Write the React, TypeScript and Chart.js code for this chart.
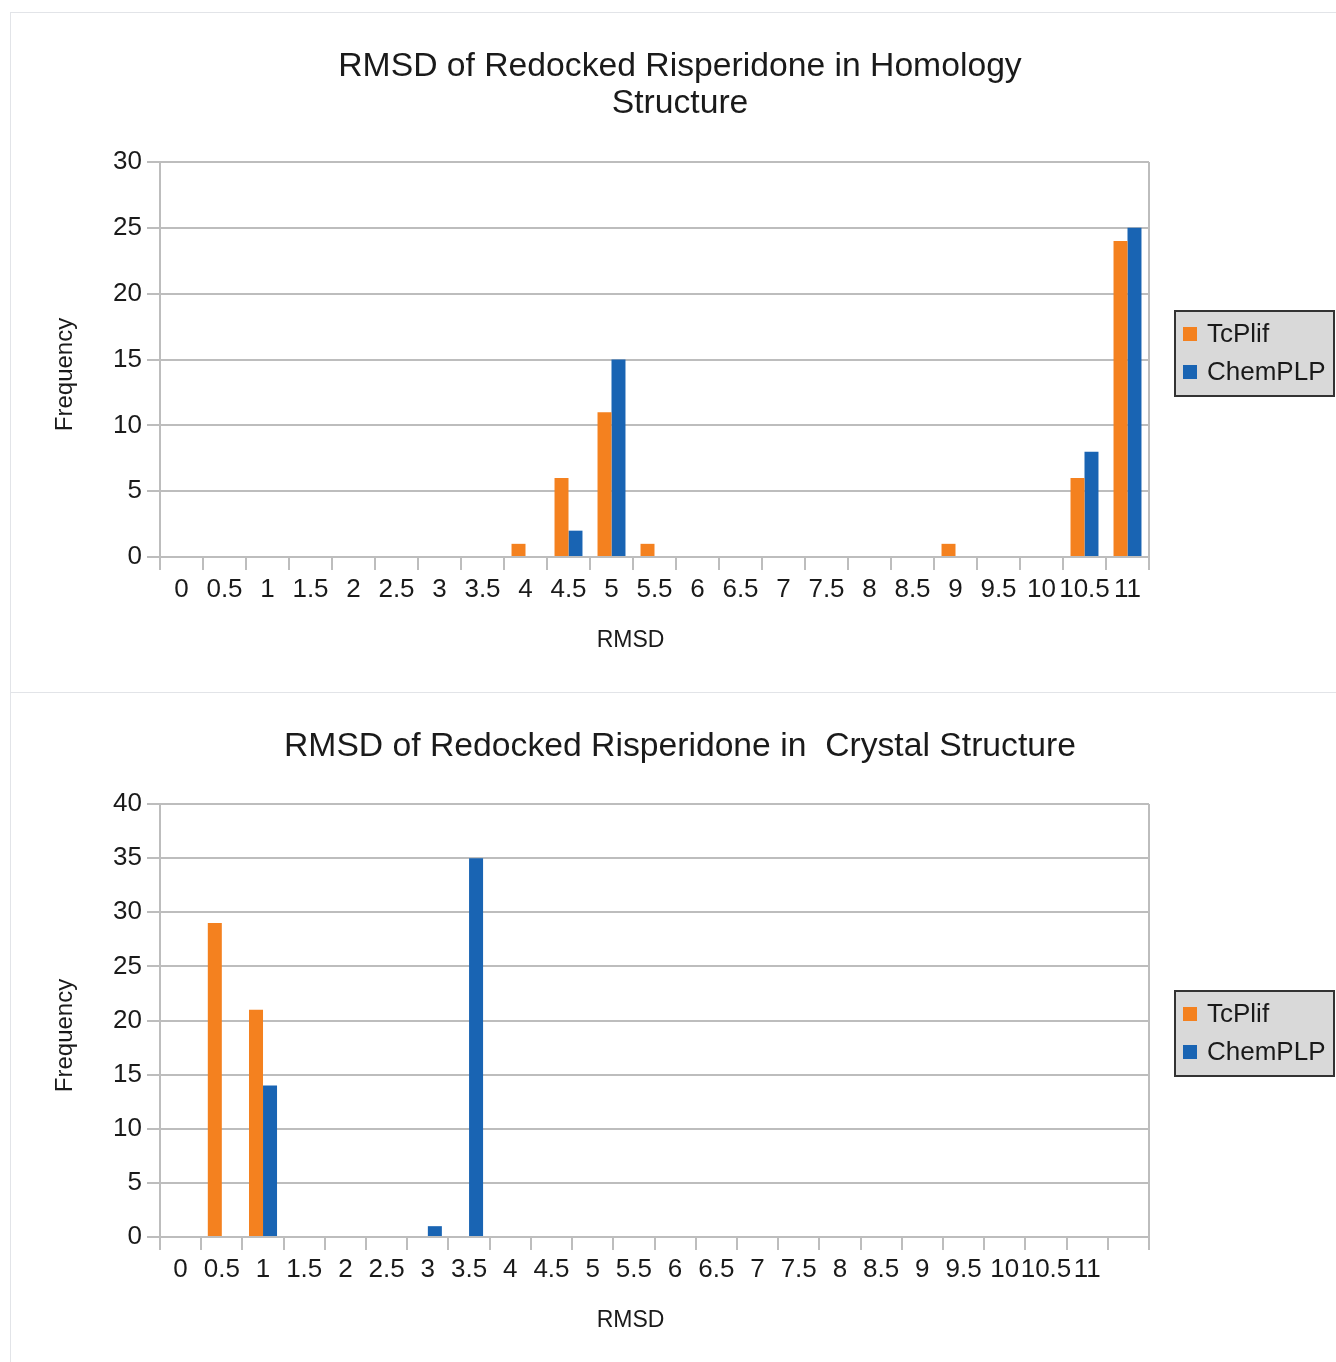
import React, { useEffect, useRef } from 'react';
import { Chart, registerables } from 'chart.js';

Chart.register(...registerables);

// ---------- data ----------
const topLabels = ['0', '0.5', '1', '1.5', '2', '2.5', '3', '3.5', '4', '4.5', '5', '5.5', '6', '6.5', '7', '7.5', '8', '8.5', '9', '9.5', '10', '10.5', '11'];
const topTcPlif = [0, 0, 0, 0, 0, 0, 0, 0, 1, 6, 11, 1, 0, 0, 0, 0, 0, 0, 1, 0, 0, 6, 24];
const topChemPLP = [0, 0, 0, 0, 0, 0, 0, 0, 0, 2, 15, 0, 0, 0, 0, 0, 0, 0, 0, 0, 0, 8, 25];

const bottomLabels = ['0', '0.5', '1', '1.5', '2', '2.5', '3', '3.5', '4', '4.5', '5', '5.5', '6', '6.5', '7', '7.5', '8', '8.5', '9', '9.5', '10', '10.5', '11', ''];
const bottomTcPlif = [0, 29, 21, 0, 0, 0, 0, 0, 0, 0, 0, 0, 0, 0, 0, 0, 0, 0, 0, 0, 0, 0, 0, 0];
const bottomChemPLP = [0, 0, 14, 0, 0, 0, 1, 35, 0, 0, 0, 0, 0, 0, 0, 0, 0, 0, 0, 0, 0, 0, 0, 0];

const seriesNames = ['TcPlif', 'ChemPLP'];
const topTitle = ['RMSD of Redocked Risperidone in Homology', 'Structure'];
const bottomTitle = 'RMSD of Redocked Risperidone in  Crystal Structure';
const xTitle = 'RMSD';
const yTitle = 'Frequency';
const topYMax = 30;
const bottomYMax = 40;
const yStep = 5;

// ---------- styles ----------
const FONT = '"Liberation Sans", Arial, sans-serif';
const ORANGE = '#f4811f';
const BLUE = '#1964b3';
const GRID = '#bdbdbd';
const TEXT = '#1a1a1a';
const CANVAS_W = 1340;
const PLOT_LEFT = 150;
const PLOT_RIGHT = 1139;
const PLOT_BOTTOM = 545;

function shiftTitle(s: any, dx: number, dy: number) {
  if (s.__shifted) return;
  const orig = s.drawTitle;
  s.drawTitle = function (this: any) {
    const ctx = this.ctx;
    ctx.save();
    ctx.translate(dx, dy);
    orig.call(this);
    ctx.restore();
  };
  s.__shifted = true;
}

const boxLegend = {
  id: 'boxLegend',
  afterDraw(chart: any) {
    const ctx = chart.ctx;
    ctx.save();
    const x = 1165, y = 299, w = 159, h = 85;
    ctx.fillStyle = '#d9d9d9';
    ctx.fillRect(x, y, w, h);
    ctx.strokeStyle = '#333333';
    ctx.lineWidth = 2;
    ctx.strokeRect(x, y, w, h);
    ctx.font = '26px ' + FONT;
    ctx.textBaseline = 'middle';
    ctx.textAlign = 'left';
    chart.data.datasets.forEach((ds: any, i: number) => {
      const cy = y + 23 + i * 38;
      ctx.fillStyle = ds.backgroundColor;
      ctx.fillRect(x + 8, cy - 7, 14, 14);
      ctx.fillStyle = TEXT;
      ctx.fillText(ds.label, x + 32, cy + 1);
    });
    ctx.restore();
  },
};

const rightBorder = {
  id: 'rightBorder',
  afterDatasetsDraw(chart: any) {
    const { ctx, chartArea } = chart;
    ctx.save();
    ctx.strokeStyle = GRID;
    ctx.lineWidth = 2;
    ctx.beginPath();
    ctx.moveTo(chartArea.right, chartArea.top);
    ctx.lineTo(chartArea.right, chartArea.bottom + 13);
    ctx.stroke();
    ctx.restore();
  },
};

function makeConfig(
  labels: string[],
  a: number[],
  b: number[],
  title: string | string[],
  yMax: number,
  height: number,
  catPct: number,
  titlePad: { top: number; bottom: number },
  xTitlePadBottom: number
): any {
  return {
    type: 'bar',
    data: {
      labels,
      datasets: [
        { label: seriesNames[0], data: a, backgroundColor: ORANGE, borderWidth: 0, categoryPercentage: catPct, barPercentage: 1 },
        { label: seriesNames[1], data: b, backgroundColor: BLUE, borderWidth: 0, categoryPercentage: catPct, barPercentage: 1 },
      ],
    },
    options: {
      responsive: false,
      animation: false,
      devicePixelRatio: 1,
      layout: { padding: 0 },
      plugins: {
        legend: { display: false },
        tooltip: { enabled: false },
        title: {
          display: true,
          text: title,
          color: TEXT,
          font: { family: FONT, size: 33.7, weight: 'normal', lineHeight: 37 / 33.7 },
          padding: titlePad,
        },
      },
      scales: {
        x: {
          offset: true,
          grid: { display: true, drawOnChartArea: false, drawTicks: true, tickLength: 13, color: GRID, lineWidth: 2, offset: true },
          border: { display: true, color: GRID, width: 2 },
          ticks: { autoSkip: false, maxRotation: 0, minRotation: 0, padding: 4, color: TEXT, font: { family: FONT, size: 26, lineHeight: 1.2 } },
          title: { display: true, text: xTitle, color: TEXT, font: { family: FONT, size: 23, lineHeight: 1.2 }, padding: { top: 0, bottom: xTitlePadBottom } },
          afterFit: (s: any) => { s.height = height - PLOT_BOTTOM; shiftTitle(s, -24, 0); },
        },
        y: {
          min: 0,
          max: yMax,
          ticks: { stepSize: yStep, padding: 5, color: TEXT, font: { family: FONT, size: 26, lineHeight: 1.2 } },
          grid: { color: GRID, lineWidth: 2, drawTicks: true, tickLength: 13 },
          border: { display: true, color: GRID, width: 2 },
          title: { display: true, text: yTitle, color: TEXT, font: { family: FONT, size: 24, lineHeight: 1.2 }, padding: { top: 41, bottom: 0 } },
          afterFit: (s: any) => { s.width = PLOT_LEFT; shiftTitle(s, 0, 15); },
        },
        yRightSpace: {
          type: 'linear',
          position: 'right',
          display: true,
          grid: { display: false, drawTicks: false },
          border: { display: false },
          ticks: { display: false },
          afterFit: (s: any) => { s.width = CANVAS_W - PLOT_RIGHT; },
        },
      },
    },
    plugins: [boxLegend, rightBorder],
  };
}

function ChartCanvas({ config, width, height }: { config: any; width: number; height: number }) {
  const ref = useRef<HTMLCanvasElement | null>(null);
  useEffect(() => {
    if (!ref.current) return;
    const chart = new Chart(ref.current, config);
    return () => chart.destroy();
  }, [config]);
  return <canvas ref={ref} width={width} height={height} style={{ width, height, display: 'block' }} />;
}

const topConfig = makeConfig(topLabels, topTcPlif, topChemPLP, topTitle, topYMax, 680, 0.65, { top: 36, bottom: 40 }, 38);
const bottomConfig = makeConfig(bottomLabels, bottomTcPlif, bottomChemPLP, bottomTitle, bottomYMax, 670, 0.68, { top: 36, bottom: 39 }, 28);

export default function App() {
  return (
    <div style={{ position: 'absolute', left: 0, top: 0, width: 1336, height: 1362, overflow: 'hidden', background: '#ffffff' }}>
      <div style={{ position: 'absolute', left: 10, top: 12, width: CANVAS_W, height: 680 }}>
        <ChartCanvas config={topConfig} width={CANVAS_W} height={680} />
      </div>
      <div style={{ position: 'absolute', left: 10, top: 692, width: CANVAS_W, height: 670 }}>
        <ChartCanvas config={bottomConfig} width={CANVAS_W} height={670} />
      </div>
      <div style={{ position: 'absolute', left: 10, top: 12, width: 1326, height: 1, background: '#e2e4e8' }} />
      <div style={{ position: 'absolute', left: 10, top: 692, width: 1326, height: 1, background: '#e2e4e8' }} />
      <div style={{ position: 'absolute', left: 10, top: 12, width: 1, height: 1350, background: '#e2e4e8' }} />
    </div>
  );
}
